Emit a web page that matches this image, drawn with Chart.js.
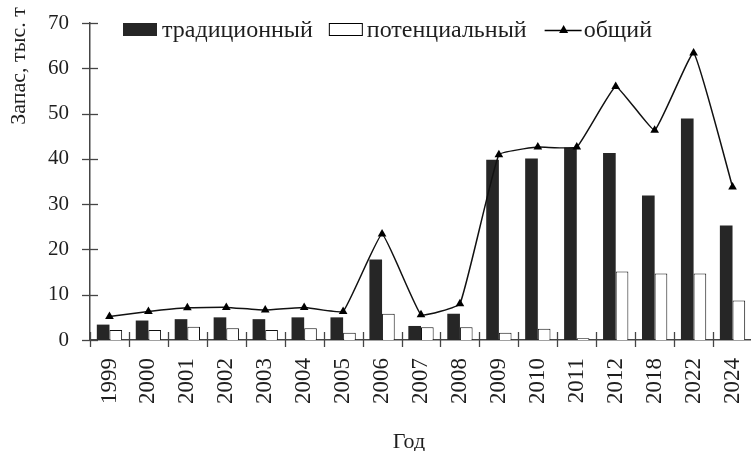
<!DOCTYPE html>
<html>
<head>
<meta charset="utf-8">
<script src="https://cdn.jsdelivr.net/npm/chart.js@4"></script>
<style>
html,body{margin:0;padding:0;background:#fff;overflow:hidden;}
#wrap{position:relative;width:757px;height:451px;}
</style>
</head>
<body>
<div id="wrap"><canvas id="c"></canvas></div>
<script>
const years = ['1999','2000','2001','2002','2003','2004','2005','2006','2007','2008','2009','2010','2011','2012','2018','2022','2024'];
const traditional = [3.4, 4.3, 4.6, 5.0, 4.6, 5.0, 5.0, 17.8, 3.1, 5.8, 39.8, 40.1, 42.5, 41.3, 31.9, 48.9, 25.3];
const potential = [2.2, 2.2, 2.9, 2.6, 2.2, 2.6, 1.6, 5.8, 2.8, 2.8, 1.6, 2.5, 0.4, 15.1, 14.7, 14.7, 8.7];
const total = [5.2, 6.3, 7.1, 7.2, 6.6, 7.2, 6.3, 23.4, 5.6, 8.0, 40.9, 42.6, 42.6, 56.0, 46.3, 63.4, 33.8];
const seriesNames = ['традиционный', 'потенциальный', 'общий'];
const yTicks = {min: 0, max: 70, step: 10};
const xTitle = 'Год';
const yTitle = 'Запас, тыс. т';

const FONT = '"Liberation Serif", "Times New Roman", serif';
const TXT = '#1e1e1e';
const AX = '#454545';

const decor = {
  id: 'decor',
  afterDraw(chart) {
    const ctx = chart.ctx;
    const xs = chart.scales.x, ys = chart.scales.y;
    ctx.save();
    ctx.strokeStyle = AX;
    ctx.lineWidth = 1.3;
    for (let v = yTicks.min; v <= yTicks.max; v += yTicks.step) {
      const y = Math.round(ys.getPixelForValue(v)) + 0.5;
      ctx.beginPath();
      ctx.moveTo(xs.left - 8, y);
      ctx.lineTo(xs.left + 8, y);
      ctx.stroke();
    }
    const n = years.length;
    const w = (xs.right - xs.left) / n;
    for (let i = 0; i <= n; i++) {
      const x = Math.round(xs.left + i * w) + 0.5;
      ctx.beginPath();
      ctx.moveTo(x, ys.bottom - 8);
      ctx.lineTo(x, ys.bottom + 7);
      ctx.stroke();
    }
    ctx.fillStyle = TXT;
    ctx.font = '22px ' + FONT;
    ctx.textAlign = 'center';
    ctx.textBaseline = 'alphabetic';
    ctx.fillText(xTitle, 409, 448);
    ctx.save();
    ctx.translate(25, 66);
    ctx.rotate(-Math.PI / 2);
    ctx.fillText(yTitle, 0, 0);
    ctx.restore();
    const ds = chart.data.datasets;
    let x = 123;
    const by = 23, bh = 13, bw = 34, base = 37;
    ctx.textAlign = 'left';
    ctx.font = '24px ' + FONT;
    ctx.fillStyle = ds[0].backgroundColor;
    ctx.fillRect(x, by, bw, bh);
    ctx.fillStyle = TXT;
    x += bw + 5;
    ctx.fillText(ds[0].label, x, base);
    x += ctx.measureText(ds[0].label).width + 16;
    ctx.fillStyle = '#fff';
    ctx.strokeStyle = '#000';
    ctx.lineWidth = 1;
    ctx.fillRect(x, by, bw, bh);
    ctx.strokeRect(x + 0.5, by + 0.5, bw - 1, bh - 1);
    ctx.fillStyle = TXT;
    x += bw + 4;
    ctx.fillText(ds[1].label, x, base);
    x += ctx.measureText(ds[1].label).width + 18;
    ctx.strokeStyle = '#000';
    ctx.lineWidth = 1.5;
    ctx.beginPath();
    ctx.moveTo(x, 30.5);
    ctx.lineTo(x + 37, 30.5);
    ctx.stroke();
    const cx = x + 19;
    ctx.fillStyle = '#000';
    ctx.beginPath();
    ctx.moveTo(cx, 25);
    ctx.lineTo(cx + 4.5, 33);
    ctx.lineTo(cx - 4.5, 33);
    ctx.closePath();
    ctx.fill();
    ctx.fillStyle = TXT;
    ctx.fillText(ds[2].label, x + 39, base);
    ctx.restore();
  }
};

new Chart(document.getElementById('c'), {
  data: {
    labels: years,
    datasets: [
      {
        type: 'bar', label: seriesNames[0], data: traditional,
        backgroundColor: '#262626', borderColor: '#1a1a1a', borderWidth: 0,
        categoryPercentage: 0.65, barPercentage: 1.0, order: 2
      },
      {
        type: 'bar', label: seriesNames[1], data: potential,
        backgroundColor: '#ffffff', borderColor: '#111', borderWidth: 1,
        categoryPercentage: 0.65, barPercentage: 1.0, order: 2
      },
      {
        type: 'line', label: seriesNames[2], data: total,
        borderColor: '#111', borderWidth: 1.5, tension: 0.1,
        pointStyle: 'triangle', pointRadius: 5, pointBackgroundColor: '#000',
        pointBorderColor: '#000', pointBorderWidth: 0, order: 0
      }
    ]
  },
  options: {
    responsive: true,
    maintainAspectRatio: false,
    animation: false,
    devicePixelRatio: 1,
    layout: {padding: {top: 23, right: 2, left: 0, bottom: 0}},
    plugins: {legend: {display: false}, tooltip: {enabled: false}, title: {display: false}},
    scales: {
      x: {
        type: 'category',
        offset: true,
        grid: {display: false, drawTicks: false},
        border: {display: true, color: AX, width: 1.5},
        ticks: {
          color: TXT, font: {family: FONT, size: 23},
          minRotation: 90, maxRotation: 90, padding: 18, autoSkip: false
        },
        afterFit(s) { s.height = 111; s.paddingLeft = 0; s.paddingRight = 0; }
      },
      y: {
        min: yTicks.min, max: yTicks.max,
        grid: {display: false, drawTicks: false},
        border: {display: true, color: AX, width: 1.5},
        ticks: {stepSize: yTicks.step, color: TXT, font: {family: FONT, size: 21}, padding: 21},
        afterFit(s) { s.width = 90; s.paddingTop = 0; s.paddingBottom = 0; }
      }
    }
  },
  plugins: [decor]
});
</script>
</body>
</html>
